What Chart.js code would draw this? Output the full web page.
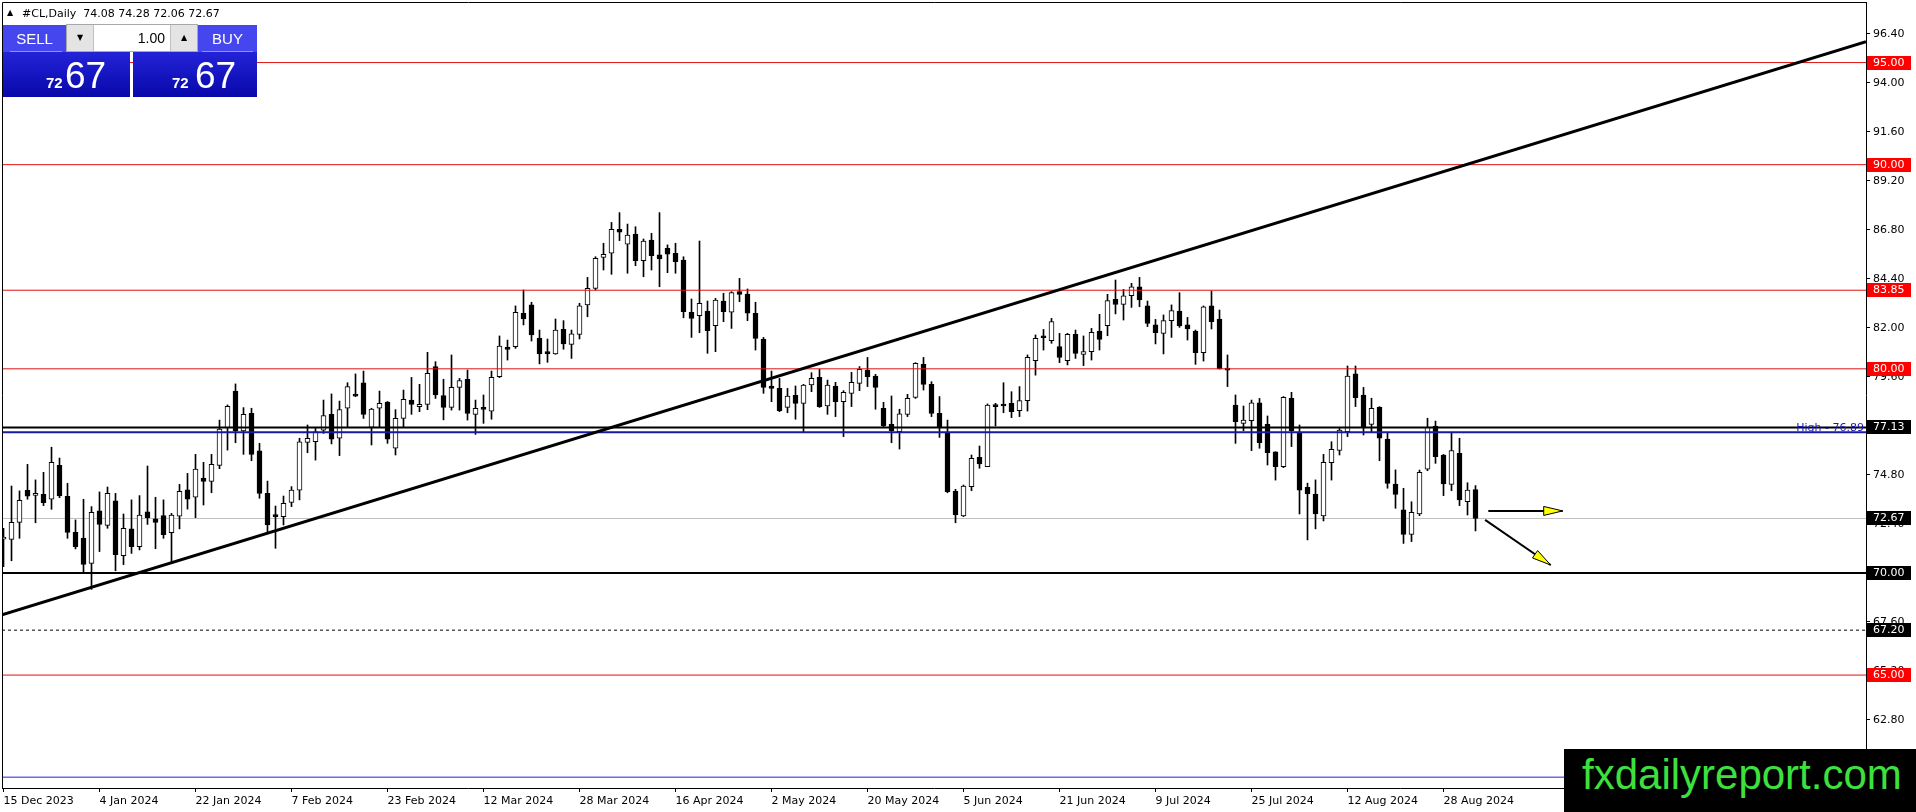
<!DOCTYPE html>
<html>
<head>
<meta charset="utf-8">
<title>#CL,Daily</title>
<script src="https://cdn.jsdelivr.net/npm/chart.js@4.4.1/dist/chart.umd.min.js"></script>
<style>
  html, body { margin: 0; padding: 0; background: #fff; overflow: hidden; }
  #wrap { position: relative; width: 1916px; height: 812px; }
  #priceChart { position: absolute; left: 0; top: 0; }
  .abs { position: absolute; }
  #tri { left: 7px; top: 9px; font: 8px "DejaVu Sans"; line-height: 8px; }
  #hdr { left: 22px; top: 7px; font: 11px "DejaVu Sans"; line-height: 14px; white-space: pre; color: #000; }
  .blue { background: linear-gradient(to bottom, #3636e8 0%, #2020d2 45%, #0808aa 100%); }
  #sellBox { left: 3px; top: 25px; width: 127px; height: 72px; }
  #buyBox { left: 133px; top: 25px; width: 124px; height: 72px; }
  .head { background: #4646ee; color: #fff; font: 15px "Liberation Sans"; text-align: center; line-height: 27px; height: 27px; }
  #sellHead { left: 3px; top: 25px; width: 63px; }
  #buyHead { left: 198px; top: 25px; width: 59px; }
  .uline { height: 1px; background: #9090ff; top: 51px; }
  #sellLine { left: 10px; width: 52px; }
  #buyLine { left: 202px; width: 51px; }
  #lotBox { left: 66px; top: 24px; width: 132px; height: 28px; background: #fff; border: 1px solid #a8a8a8; box-sizing: border-box; }
  .btn { position: absolute; top: 0; width: 26px; height: 26px; background: #e4e4e4; font: 8px "DejaVu Sans"; text-align: center; line-height: 26px; color: #000; }
  #down { left: 0; border-right: 1px solid #c0c0c0; }
  #up { right: 0; border-left: 1px solid #c0c0c0; }
  #lot { position: absolute; right: 32px; top: 0; font: 14px "Liberation Sans"; line-height: 26px; color: #000; }
  .small { color: #fff; font: bold 15px "Liberation Sans"; line-height: 15px; }
  .big { color: #fff; font: 37px "Liberation Sans"; line-height: 37px; }
  #logo { left: 1564px; top: 749px; width: 352px; height: 63px; background: #000; }
  #logo span { position: absolute; left: 18px; top: 5px; font: 42px "Liberation Sans"; line-height: 42px; color: #3ee03e; white-space: nowrap; }
</style>
</head>
<body>
<div id="wrap">
  <canvas id="priceChart" width="1916" height="812"></canvas>

  <div class="abs" id="tri">&#9650;</div>
  <div class="abs" id="hdr">#CL,Daily  74.08 74.28 72.06 72.67</div>

  <div class="abs blue" id="sellBox"></div>
  <div class="abs blue" id="buyBox"></div>
  <div class="abs head" id="sellHead">SELL</div>
  <div class="abs head" id="buyHead">BUY</div>
  <div class="abs uline" id="sellLine"></div>
  <div class="abs uline" id="buyLine"></div>
  <div class="abs" id="lotBox">
    <div class="btn" id="down">&#9660;</div>
    <div id="lot">1.00</div>
    <div class="btn" id="up">&#9650;</div>
  </div>
  <div class="abs small" style="left:46px;top:75px;">72</div>
  <div class="abs big" style="left:65px;top:57px;">67</div>
  <div class="abs small" style="left:172px;top:75px;">72</div>
  <div class="abs big" style="left:195px;top:57px;">67</div>

  <div class="abs" id="logo"><span>fxdailyreport.com</span></div>
</div>

<script>
// daily candles, 15 Dec 2023 .. 3 Sep 2024
const opens = [
  71.66, 71.65, 72.48, 74.05, 73.80, 73.85, 73.61, 75.27, 73.76, 71.99,
  71.71, 70.47, 73.04, 72.33, 73.53, 70.85, 72.16, 71.29, 72.99, 72.65,
  72.81, 71.98, 72.78, 74.07, 73.71, 74.65, 74.49, 75.27, 77.12, 78.91,
  76.96, 77.82, 75.98, 73.90, 72.80, 72.76, 73.46, 74.06, 76.40, 76.43,
  77.00, 77.77, 76.60, 78.07, 78.70, 79.32, 77.13, 78.07, 78.37, 76.11,
  77.57, 78.47, 78.15, 78.26, 80.11, 78.69, 78.11, 79.09, 79.49, 77.77,
  78.05, 77.93, 79.61, 81.05, 81.09, 82.72, 83.13, 81.50, 80.84, 80.73,
  81.93, 81.20, 81.69, 83.13, 83.94, 85.46, 85.66, 86.83, 86.10, 86.60,
  85.30, 86.31, 85.58, 85.90, 85.66, 85.33, 82.77, 82.60, 82.83, 82.11,
  83.32, 82.77, 83.78, 83.66, 82.72, 81.44, 79.16, 79.04, 78.11, 78.70,
  78.31, 79.21, 79.58, 78.18, 79.16, 78.39, 78.80, 79.29, 79.94, 79.65,
  78.07, 77.28, 76.92, 77.77, 78.60, 80.22, 79.24, 77.82, 76.89, 74.00,
  72.80, 74.23, 75.66, 75.21, 78.18, 78.23, 78.31, 77.95, 78.44, 80.40,
  81.56, 81.38, 81.09, 80.40, 81.69, 80.71, 80.84, 81.85, 82.11, 83.40,
  83.16, 83.58, 84.02, 83.09, 82.15, 81.74, 82.36, 82.83, 82.15, 81.85,
  80.79, 83.09, 82.44, 79.99, 78.23, 77.33, 77.46, 78.34, 77.28, 75.93,
  75.21, 78.55, 76.87, 74.20, 73.87, 72.80, 75.40, 76.00, 76.92, 79.75,
  78.72, 77.28, 78.11, 76.56, 74.36, 73.09, 71.89, 72.89, 75.08, 77.20,
  75.78, 74.34, 75.86, 73.49, 74.08
];
const highs = [
  72.19, 74.26, 74.02, 75.32, 74.56, 74.93, 76.16, 75.63, 74.39, 72.60,
  73.61, 73.25, 73.97, 74.21, 73.90, 72.89, 73.58, 73.79, 75.24, 73.71,
  73.58, 72.92, 74.34, 74.88, 75.81, 75.42, 75.81, 77.49, 78.23, 79.26,
  78.10, 78.07, 76.35, 74.50, 73.28, 73.77, 74.23, 76.60, 77.25, 77.08,
  78.47, 78.77, 78.42, 79.32, 79.75, 79.89, 78.07, 78.91, 78.40, 78.00,
  78.96, 79.58, 79.24, 80.81, 80.35, 79.49, 80.68, 79.53, 79.94, 78.47,
  78.72, 79.89, 81.61, 81.41, 83.08, 83.86, 83.26, 81.90, 81.46, 82.44,
  82.36, 81.90, 83.21, 84.48, 85.49, 86.15, 87.17, 87.65, 87.09, 86.96,
  86.36, 86.64, 87.65, 86.07, 86.15, 85.49, 83.42, 86.26, 83.32, 83.45,
  83.70, 83.78, 84.43, 83.91, 83.26, 81.54, 79.89, 79.53, 79.04, 79.16,
  79.24, 79.81, 79.98, 79.45, 79.34, 78.93, 79.83, 80.11, 80.56, 79.73,
  78.36, 78.67, 78.02, 78.75, 80.30, 80.56, 79.37, 78.64, 77.49, 74.10,
  74.31, 75.78, 76.22, 78.28, 78.31, 79.32, 78.88, 79.13, 80.68, 81.66,
  81.93, 82.47, 81.74, 81.74, 81.90, 81.61, 81.98, 82.67, 83.65, 84.35,
  83.89, 84.19, 84.48, 83.32, 82.42, 82.64, 83.13, 83.73, 82.52, 81.90,
  83.08, 83.81, 82.88, 80.68, 78.72, 78.18, 78.47, 78.55, 77.69, 75.94,
  78.64, 78.85, 77.25, 74.40, 74.56, 75.81, 76.43, 77.08, 80.14, 80.14,
  79.09, 78.56, 78.15, 76.84, 75.05, 74.15, 73.49, 75.04, 77.58, 77.44,
  75.81, 76.87, 76.60, 74.42, 74.28
];
const lows = [
  70.31, 70.60, 71.70, 73.61, 72.46, 73.30, 73.12, 73.69, 71.70, 71.18,
  70.03, 69.20, 71.05, 72.19, 70.11, 70.41, 70.96, 71.13, 72.38, 71.19,
  71.70, 70.47, 72.16, 73.13, 72.71, 73.33, 73.93, 75.11, 76.02, 76.38,
  75.81, 75.50, 73.66, 71.94, 71.21, 72.35, 73.25, 73.58, 75.89, 75.53,
  76.84, 76.32, 75.75, 77.17, 78.64, 77.57, 76.27, 77.13, 76.35, 75.78,
  77.13, 77.77, 77.90, 78.00, 78.55, 77.50, 77.98, 77.98, 77.49, 76.79,
  77.33, 77.53, 79.57, 80.43, 81.00, 82.15, 81.36, 80.24, 80.32, 80.71,
  80.96, 80.51, 81.46, 82.55, 83.86, 84.84, 84.63, 86.28, 84.68, 85.05,
  84.51, 84.84, 84.02, 84.71, 84.68, 82.50, 81.54, 81.77, 80.76, 80.84,
  82.31, 81.98, 83.29, 82.36, 80.92, 78.80, 78.39, 77.90, 77.85, 77.53,
  76.92, 78.88, 78.11, 77.77, 77.66, 76.68, 78.15, 78.93, 79.13, 78.02,
  77.17, 76.38, 76.07, 77.66, 78.55, 78.96, 77.66, 76.64, 73.93, 72.46,
  72.76, 74.03, 75.13, 75.21, 77.20, 77.85, 77.61, 77.66, 77.93, 79.69,
  80.92, 81.25, 80.30, 80.19, 80.51, 80.16, 80.43, 80.92, 81.62, 82.69,
  82.39, 83.01, 83.04, 82.07, 81.22, 80.73, 81.54, 82.03, 81.41, 80.22,
  80.38, 81.95, 79.99, 79.13, 76.35, 76.97, 75.99, 76.11, 75.29, 74.55,
  75.16, 76.19, 72.89, 71.62, 72.16, 72.55, 74.55, 75.78, 76.68, 78.15,
  76.76, 76.92, 75.50, 74.15, 73.17, 71.45, 71.54, 72.81, 75.01, 75.37,
  73.79, 74.03, 73.30, 72.84, 72.06
];
const closes = [
  71.75, 72.48, 73.56, 73.76, 73.90, 73.45, 75.42, 73.77, 71.99, 71.29,
  70.42, 72.97, 72.38, 73.90, 70.90, 72.19, 71.29, 72.84, 72.71, 72.48,
  71.88, 72.84, 74.00, 73.61, 75.09, 74.49, 75.32, 77.05, 78.16, 76.96,
  77.77, 75.81, 73.90, 72.35, 72.76, 73.41, 74.06, 76.43, 76.60, 76.92,
  77.71, 76.55, 78.00, 79.13, 78.66, 77.77, 78.03, 78.31, 76.55, 77.57,
  78.51, 78.26, 78.26, 79.78, 78.72, 78.11, 79.09, 79.42, 77.82, 78.07,
  78.01, 79.58, 81.12, 80.95, 82.77, 82.44, 81.66, 80.73, 80.73, 81.90,
  81.22, 81.71, 83.09, 83.94, 85.41, 85.61, 86.83, 86.69, 86.55, 85.30,
  86.26, 85.54, 85.38, 85.61, 85.25, 82.80, 82.47, 83.21, 81.87, 83.37,
  82.80, 83.73, 83.65, 82.72, 81.49, 79.09, 79.04, 77.95, 78.67, 78.31,
  79.21, 79.53, 78.15, 79.21, 78.39, 78.85, 79.34, 79.98, 79.62, 79.09,
  77.22, 76.97, 77.79, 78.55, 80.27, 79.24, 77.82, 77.17, 73.98, 72.84,
  74.26, 75.62, 75.34, 78.23, 78.15, 78.18, 77.90, 78.44, 80.56, 81.49,
  81.52, 82.31, 80.56, 81.69, 80.76, 80.84, 81.79, 81.44, 83.34, 83.16,
  83.58, 84.02, 83.37, 82.23, 81.77, 82.36, 82.85, 82.10, 81.95, 80.79,
  83.04, 82.31, 79.99, 79.94, 77.41, 77.49, 78.34, 76.38, 75.89, 75.21,
  78.60, 76.97, 74.06, 73.87, 72.89, 75.42, 76.06, 77.00, 79.65, 78.59,
  77.13, 78.07, 76.60, 74.39, 73.85, 71.89, 72.97, 74.93, 77.13, 75.70,
  74.36, 76.00, 73.58, 74.06, 72.67
];

// time axis labels, one every 12 bars
const dateTickIdx = [0, 12, 24, 36, 48, 60, 72, 84, 96, 108, 120, 132, 144, 156, 168, 180];
const dateLabels = [
  '15 Dec 2023', '4 Jan 2024', '22 Jan 2024', '7 Feb 2024', '23 Feb 2024', '12 Mar 2024',
  '28 Mar 2024', '16 Apr 2024', '2 May 2024', '20 May 2024', '5 Jun 2024', '21 Jun 2024',
  '9 Jul 2024', '25 Jul 2024', '12 Aug 2024', '28 Aug 2024'
];
const priceTicks = [96.40, 94.00, 91.60, 89.20, 86.80, 84.40, 82.00, 79.60, 77.20, 74.80, 72.40, 70.00, 67.60, 65.20, 62.80, 60.40];

// drawn objects
const redLevels = [95.00, 90.00, 83.85, 80.00, 65.00];
const blackLevels = [77.13, 70.00];
const dashedLevels = [67.20];
const bidPrice = 72.67;
const highLevel = 76.89;
const blueFloor = 60.00;
const trendX = [-0.1875, 232.8125];
const trendY = [67.95, 96.02];
const arrowFromX = [185.6, 185.2];
const arrowFromY = [73.04, 72.60];
const arrowToX = [194.9, 193.4];
const arrowToY = [73.04, 70.39];

const xMin = -0.1875, xMax = 232.8125;
const yMin = 59.469, yMax = 97.967;

const font11 = { family: 'DejaVu Sans', size: 11 };

function hLine(v, color, width, dash, order) {
  return {
    type: 'line',
    data: [{ x: xMin, y: v }, { x: xMax, y: v }],
    borderColor: color,
    borderWidth: width,
    borderDash: dash || [],
    pointRadius: 0,
    pointHoverRadius: 0,
    order: order
  };
}

const overlay = {
  id: 'overlay',
  afterDatasetsDraw(chart) {
    const { ctx, chartArea, scales: { x, y } } = chart;
    ctx.save();
    // arrow heads
    arrowToX.forEach(function (tx, i) {
      const x1 = x.getPixelForValue(arrowFromX[i]), y1 = y.getPixelForValue(arrowFromY[i]);
      const x2 = x.getPixelForValue(tx), y2 = y.getPixelForValue(arrowToY[i]);
      const a = Math.atan2(y2 - y1, x2 - x1);
      const len = 19, half = 4.5;
      const bx = x2 - len * Math.cos(a), by = y2 - len * Math.sin(a);
      ctx.beginPath();
      ctx.moveTo(x2, y2);
      ctx.lineTo(bx - half * Math.sin(a), by + half * Math.cos(a));
      ctx.lineTo(bx + half * Math.sin(a), by - half * Math.cos(a));
      ctx.closePath();
      ctx.fillStyle = '#ffff00';
      ctx.fill();
      ctx.strokeStyle = '#000';
      ctx.lineWidth = 1;
      ctx.stroke();
    });
    // description of the high line
    ctx.font = '11px "DejaVu Sans"';
    ctx.fillStyle = '#1818b8';
    ctx.textAlign = 'right';
    ctx.textBaseline = 'bottom';
    ctx.fillText('High - ' + highLevel.toFixed(2), chartArea.right - 2, y.getPixelForValue(highLevel) + 1);
    ctx.restore();
  },
  afterDraw(chart) {
    const { ctx, chartArea: a, scales: { y } } = chart;
    ctx.save();
    ctx.strokeStyle = '#000';
    ctx.lineWidth = 1;
    ctx.beginPath();
    ctx.moveTo(a.left + 0.5, a.bottom);
    ctx.lineTo(a.left + 0.5, a.top + 0.5);
    ctx.lineTo(a.right, a.top + 0.5);
    ctx.stroke();

    const boxes = redLevels.map(v => ({ v: v, bg: '#ff0000' }))
      .concat(blackLevels.map(v => ({ v: v, bg: '#000' })))
      .concat([{ v: bidPrice, bg: '#000' }])
      .concat(dashedLevels.map(v => ({ v: v, bg: '#000' })));
    ctx.font = '11px "DejaVu Sans"';
    ctx.textAlign = 'left';
    ctx.textBaseline = 'middle';
    boxes.forEach(function (b) {
      const py = Math.round(y.getPixelForValue(b.v));
      ctx.fillStyle = b.bg;
      ctx.fillRect(a.right + 1, py - 7, 44, 14);
      ctx.fillStyle = '#fff';
      ctx.fillText(b.v.toFixed(2), a.right + 7, py + 0.5);
    });
    ctx.restore();
  }
};

const ctx = document.getElementById('priceChart').getContext('2d');

const bodyData = opens.map((o, i) => ({ x: i, y: [o, closes[i]] }));
const wickData = highs.map((h, i) => ({ x: i, y: [lows[i], h] }));
const bodyColors = opens.map((o, i) => (closes[i] >= o ? '#ffffff' : '#000000'));

const datasets = [
  hLine(bidPrice, '#c0c0c0', 1, null, 9),
  {
    type: 'bar',
    label: 'wicks',
    data: wickData,
    backgroundColor: '#000',
    barThickness: 1,
    grouped: false,
    order: 8
  },
  {
    type: 'bar',
    label: '#CL',
    data: bodyData,
    backgroundColor: bodyColors,
    borderColor: '#000',
    borderWidth: 1,
    borderSkipped: false,
    barThickness: 5,
    minBarLength: 2,
    grouped: false,
    order: 7
  },
  hLine(blueFloor, '#2020e0', 1, null, 3),
  hLine(highLevel, '#1818a8', 2, null, 3)
];
redLevels.forEach(v => datasets.push(hLine(v, '#e01010', 1, null, 3)));
blackLevels.forEach(v => datasets.push(hLine(v, '#000', 2, null, 2)));
dashedLevels.forEach(v => datasets.push(hLine(v, '#000', 1, [3, 3], 2)));
datasets.push({
  type: 'line',
  label: 'trend',
  data: trendX.map((tx, i) => ({ x: tx, y: trendY[i] })),
  borderColor: '#000',
  borderWidth: 3,
  pointRadius: 0,
  order: 0
});
arrowToX.forEach(function (tx, i) {
  datasets.push({
    type: 'line',
    label: 'arrow' + i,
    data: [{ x: arrowFromX[i], y: arrowFromY[i] }, { x: tx, y: arrowToY[i] }],
    borderColor: '#000',
    borderWidth: 2,
    pointRadius: 0,
    order: 0
  });
});

const priceChart = new Chart(ctx, {
  type: 'bar',
  data: { datasets: datasets },
  options: {
    responsive: false,
    animation: false,
    devicePixelRatio: 1,
    layout: { padding: { left: 2, top: 2, right: 0, bottom: 0 } },
    plugins: { legend: { display: false }, tooltip: { enabled: false } },
    events: [],
    scales: {
      x: {
        type: 'linear',
        min: xMin,
        max: xMax,
        offset: false,
        afterBuildTicks: s => { s.ticks = dateTickIdx.map(v => ({ value: v })); },
        afterFit: s => { s.height = 24; s.paddingLeft = 0; s.paddingRight = 0; },
        ticks: {
          callback: (v, i) => dateLabels[i],
          align: 'start',
          autoSkip: false,
          maxRotation: 0,
          padding: 3,
          color: '#000',
          font: font11
        },
        grid: { drawOnChartArea: false, drawTicks: true, tickLength: 4, color: '#000', offset: false },
        border: { display: true, color: '#000', width: 1 }
      },
      y: {
        position: 'right',
        min: yMin,
        max: yMax,
        beginAtZero: false,
        afterBuildTicks: s => { s.ticks = priceTicks.map(v => ({ value: v })); },
        afterFit: s => { s.width = 50; s.paddingTop = 0; s.paddingBottom = 0; },
        ticks: {
          callback: v => v.toFixed(2),
          autoSkip: false,
          padding: 3,
          color: '#000',
          font: font11
        },
        grid: { drawOnChartArea: false, drawTicks: true, tickLength: 4, color: '#000' },
        border: { display: true, color: '#000', width: 1 }
      }
    }
  },
  plugins: [overlay]
});
</script>
</body>
</html>
